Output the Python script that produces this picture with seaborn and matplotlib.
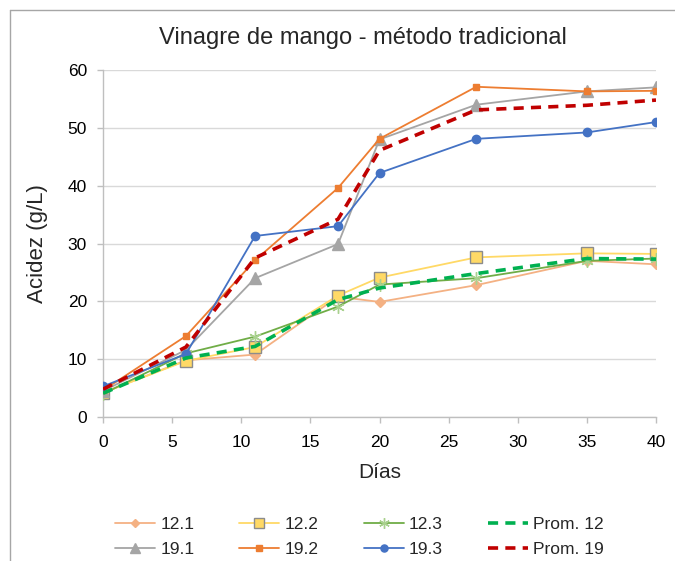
import numpy as np
import pandas as pd
import matplotlib
matplotlib.use("Agg")
import matplotlib.pyplot as plt
import matplotlib.lines as mlines
import seaborn as sns

dias = [0, 6, 11, 17, 20, 27, 35, 40]

s12_1 = [4.2, 9.8, 10.8, 20.8, 19.9, 22.8, 27.0, 26.4]
s12_2 = [4.2, 9.7, 12.1, 21.0, 24.1, 27.6, 28.3, 28.2]
s12_3 = [4.0, 11.0, 13.9, 19.1, 22.9, 24.0, 27.0, 27.4]
prom12 = [4.1, 10.2, 12.2, 20.3, 22.3, 24.8, 27.4, 27.3]
s19_1 = [4.5, 11.6, 24.0, 29.9, 48.0, 54.0, 56.3, 57.0]
s19_2 = [4.6, 14.0, 27.1, 39.6, 48.1, 57.1, 56.3, 56.4]
s19_3 = [5.3, 10.9, 31.3, 33.0, 42.2, 48.1, 49.2, 51.0]
prom19 = [4.8, 12.1, 27.5, 34.2, 46.1, 53.1, 53.9, 54.8]

labels = ["12.1", "12.2", "12.3", "Prom. 12", "19.1", "19.2", "19.3", "Prom. 19"]
values = [s12_1, s12_2, s12_3, prom12, s19_1, s19_2, s19_3, prom19]

dash = (0, (2.8, 2.0))
styles = {
    "12.1": dict(color="#F4B183", marker="D", markersize=5, mec="#F4B183", lw=1.3),
    "12.2": dict(color="#FFD966", marker="s", markersize=9, mec="#8C8C8C", lw=1.3),
    "12.3": dict(color="#70AD47", marker=(6, 2, 0), markersize=9, mec="#A9D18E", lw=1.3),
    "Prom. 12": dict(color="#00B050", marker=None, lw=2.6, ls=dash),
    "19.1": dict(color="#A5A5A5", marker="^", markersize=8, mec="#A5A5A5", lw=1.3),
    "19.2": dict(color="#ED7D31", marker="s", markersize=5, mec="#ED7D31", lw=1.3),
    "19.3": dict(color="#4472C4", marker="o", markersize=6, mec="#4472C4", lw=1.3),
    "Prom. 19": dict(color="#C00000", marker=None, lw=2.6, ls=dash),
}

df = pd.DataFrame({"dias": dias * len(labels),
                   "serie": np.repeat(labels, len(dias)),
                   "acidez": np.concatenate(values)})

sns.set_theme(style="white")
plt.rcParams["font.family"] = ["Liberation Sans", "DejaVu Sans"]

fig = plt.figure(figsize=(6.75, 5.61), dpi=100)
ax = fig.add_axes([103 / 675, 1 - 417 / 561, 553 / 675, 347 / 561])

order = ["12.1", "12.2", "12.3", "19.1", "19.2", "19.3", "Prom. 12", "Prom. 19"]
handles = {}
for name in order:
    st = styles[name]
    sub = df[df["serie"] == name]
    sns.lineplot(data=sub, x="dias", y="acidez", ax=ax, color=st["color"],
                 linewidth=st["lw"], linestyle=st.get("ls", "-"),
                 marker=st["marker"] if st["marker"] else None,
                 markersize=st.get("markersize", 0),
                 markeredgecolor=st.get("mec", st["color"]),
                 markeredgewidth=1.0, legend=False, zorder=3)
    handles[name] = mlines.Line2D([], [], color=st["color"], lw=st["lw"],
                                  ls=st.get("ls", "-"), marker=st["marker"],
                                  markersize=st.get("markersize", 0) * 0.85,
                                  markeredgecolor=st.get("mec", st["color"]),
                                  markeredgewidth=1.0)

ax.set_xlim(0, 40)
ax.set_ylim(0, 60)
ax.set_xticks(range(0, 41, 5))
ax.set_yticks(range(0, 61, 10))
ax.yaxis.grid(True, color="#D9D9D9", lw=1)
ax.set_axisbelow(True)
for side in ["top", "right"]:
    ax.spines[side].set_visible(False)
for side in ["left", "bottom"]:
    ax.spines[side].set_color("#BFBFBF")
    ax.spines[side].set_linewidth(1)
ax.tick_params(axis="both", colors="#BFBFBF", labelcolor="#000000",
               length=4, width=1, direction="out", labelsize=12.5,
               bottom=True, left=True)
ax.tick_params(axis="x", pad=9)
ax.tick_params(axis="y", pad=7.5)
ax.set_xlabel("Días", fontsize=15, labelpad=9)
ax.set_ylabel("Acidez (g/L)", fontsize=16, labelpad=14)
fig.text(362.5 / 675, 1 - 38 / 561, "Vinagre de mango - método tradicional",
         ha="center", va="center", fontsize=17)

leg_order = ["12.1", "19.1", "12.2", "19.2", "12.3", "19.3", "Prom. 12", "Prom. 19"]
fig.legend([handles[n] for n in leg_order], leg_order, ncol=4,
           loc="center left", bbox_to_anchor=(115 / 675, 1 - 537 / 561),
           frameon=False, fontsize=12.5, handlelength=2.3, handletextpad=0.3,
           columnspacing=2.6, labelspacing=0.6, borderaxespad=0, borderpad=0)

# chart-area frame (only top and left edges fall inside the image)
fig.add_artist(mlines.Line2D([10 / 675, 10 / 675], [0, 1 - 10 / 561],
                             transform=fig.transFigure, color="#A6A6A6", lw=1))
fig.add_artist(mlines.Line2D([10 / 675, 1], [1 - 10 / 561, 1 - 10 / 561],
                             transform=fig.transFigure, color="#A6A6A6", lw=1))

fig.savefig("out.png", dpi=100)
